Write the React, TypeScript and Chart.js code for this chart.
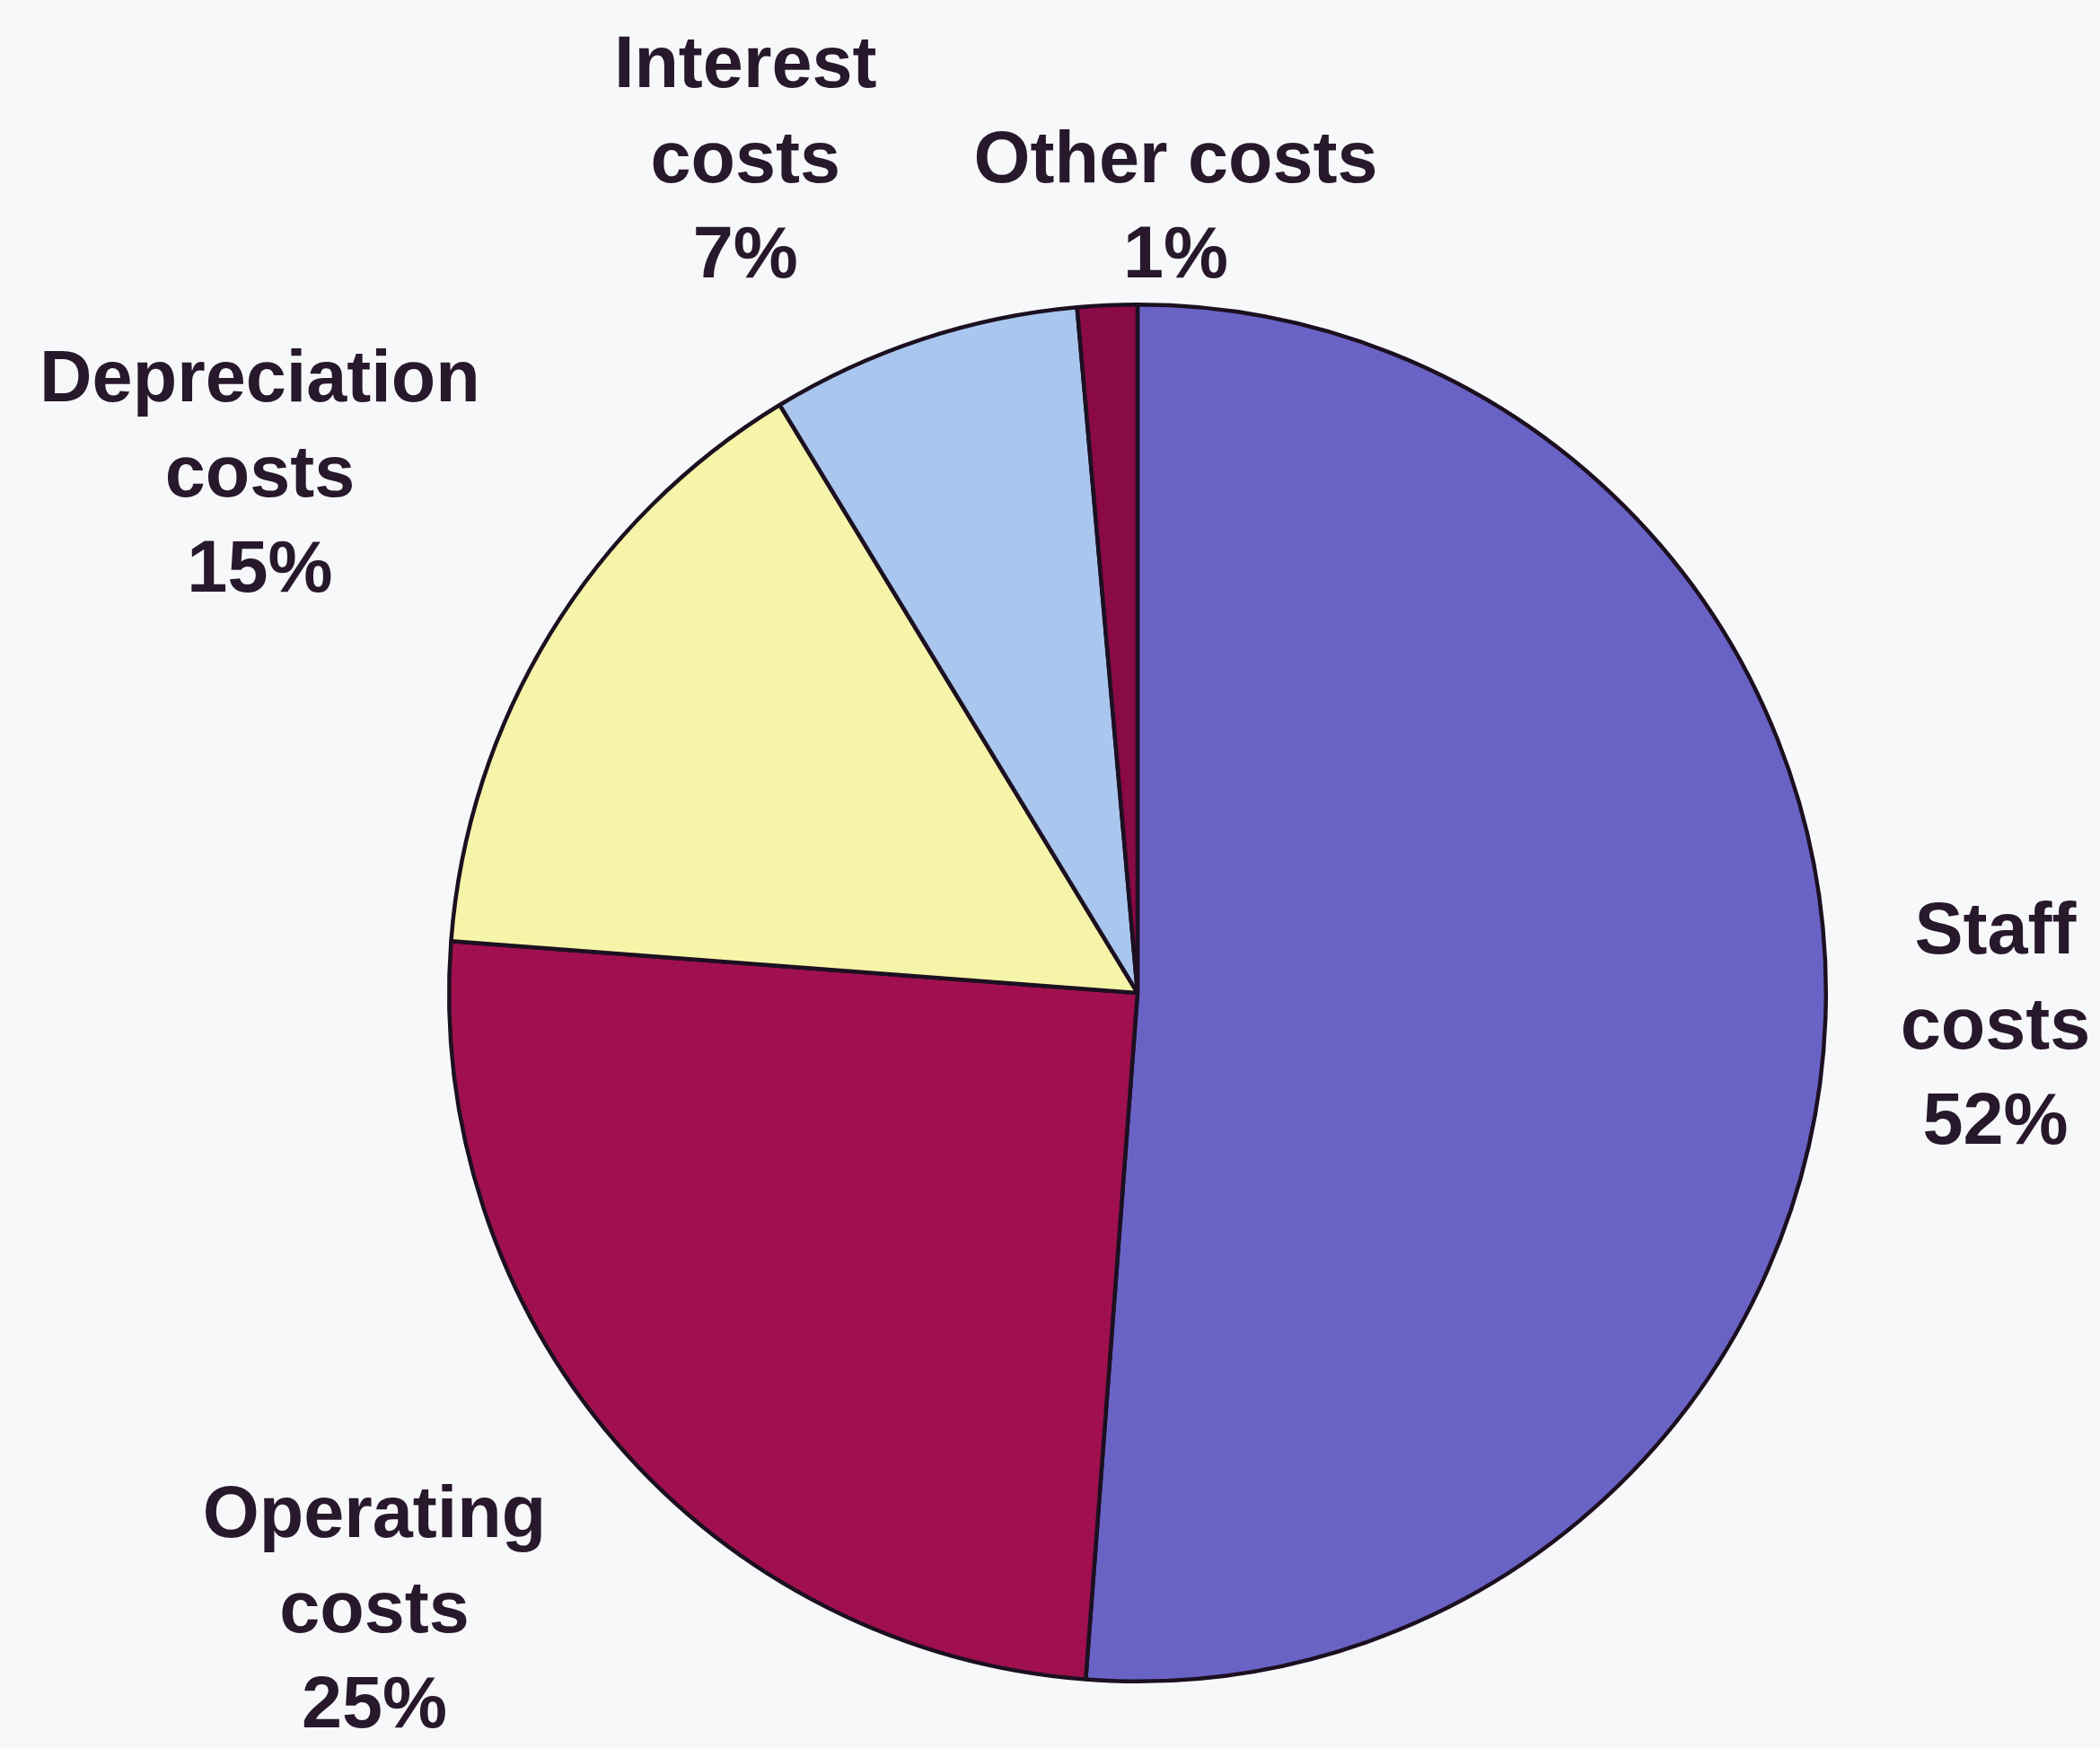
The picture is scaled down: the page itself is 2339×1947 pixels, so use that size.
import React, { useEffect, useRef } from "react";
import { Chart, registerables } from "chart.js";

Chart.register(...registerables);

const categories = ["Staff costs", "Operating costs", "Depreciation costs", "Interest costs", "Other costs"];
const shares = [51.2, 25.0, 15.1, 7.3, 1.4];
const percentLabels = ["52%", "25%", "15%", "7%", "1%"];
const labelLines = [
  ["Staff", "costs"],
  ["Operating", "costs"],
  ["Depreciation", "costs"],
  ["Interest", "costs"],
  ["Other costs"],
];
const sliceColors = ["#6a63c6", "#a0104f", "#f6f4a8", "#a9c6ee", "#8a0947"];

// label placement: distance in radii and angular shift (degrees) from slice middle
const labelPlacement = [
  { dist: 1.247, shift: 0 },
  { dist: 1.424, shift: 1.8 },
  { dist: 1.482, shift: -0.85 },
  { dist: 1.339, shift: -7.0 },
  { dist: 1.144, shift: 5.3 },
];

const W = 2339;
const H = 1947;

const labelPlugin = {
  id: "outerLabels",
  afterDatasetsDraw(chart: any) {
    const ctx = chart.ctx;
    const meta = chart.getDatasetMeta(0);
    ctx.save();
    ctx.font = "bold 81px 'Liberation Sans', Arial, Helvetica, sans-serif";
    ctx.fillStyle = "#28182c";
    ctx.textAlign = "center";
    ctx.textBaseline = "middle";
    const lineH = 106;
    meta.data.forEach((arc: any, i: number) => {
      const { x, y, startAngle, endAngle, outerRadius } = arc.getProps(
        ["x", "y", "startAngle", "endAngle", "outerRadius"],
        true
      );
      const mid = (startAngle + endAngle) / 2 + (labelPlacement[i].shift * Math.PI) / 180;
      const d = outerRadius * labelPlacement[i].dist;
      const cx = x + Math.cos(mid) * d;
      const cy = y + Math.sin(mid) * d;
      const lines = [...labelLines[i], percentLabels[i]];
      const n = lines.length;
      lines.forEach((t, k) => {
        ctx.fillText(t, cx, cy + (k - (n - 1) / 2) * lineH + 4);
      });
    });
    ctx.restore();
  },
};

export default function App() {
  const ref = useRef<HTMLCanvasElement | null>(null);
  useEffect(() => {
    if (!ref.current) return;
    const chart = new Chart(ref.current, {
      type: "pie",
      data: {
        labels: categories,
        datasets: [
          {
            data: shares,
            backgroundColor: sliceColors,
            borderColor: "#1c1020",
            borderWidth: 4.5,
          },
        ],
      },
      options: {
        responsive: false,
        animation: false,
        layout: { padding: { left: 497, right: 302, top: 337, bottom: 72 } },
        plugins: {
          legend: { display: false },
          tooltip: { enabled: false },
          title: { display: false },
        },
      },
      plugins: [labelPlugin],
    });
    return () => chart.destroy();
  }, []);
  return (
    <div style={{ position: "fixed", left: 0, top: 0, width: W, height: H, background: "#f6f8fa" }}>
      <canvas ref={ref} width={W} height={H} style={{ width: W, height: H, display: "block" }} />
    </div>
  );
}
